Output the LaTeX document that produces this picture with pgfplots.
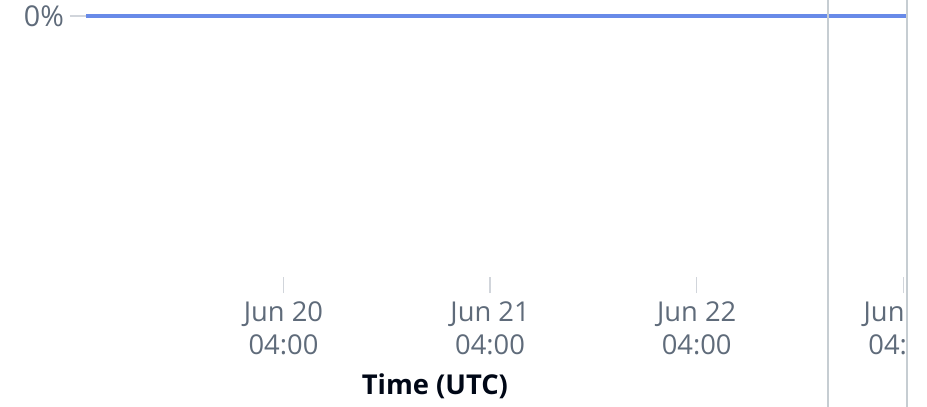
\documentclass[border=0pt]{standalone}
\usepackage{pgfplots}
\pgfplotsset{compat=1.18}
\usepackage{fontspec}
\setmainfont{Open Sans}
\definecolor{lblgray}{HTML}{5F6B7A}
\definecolor{ttl}{HTML}{000716}
\definecolor{blueline}{HTML}{688AE8}
\definecolor{tickgray}{HTML}{D1D5DB}
\definecolor{vgray}{HTML}{C6CDD2}
\begin{document}
\begin{tikzpicture}
\begin{axis}[
  name=ax,
  scale only axis,
  width=615.75pt, height=195.75pt,
  xmin=-0.956, xmax=3.018,
  ymin=-1, ymax=0,
  clip=false,
  axis x line*=bottom, axis y line*=left,
  axis line style={draw=none},
  xtick={0,1,2,3},
  xticklabels={{Jun 20\\04:00},{Jun 21\\04:00},{Jun 22\\04:00},{Jun 23\\04:00}},
  ytick={0},
  yticklabels={0\%},
  tick align=outside,
  major tick length=12pt,
  tick style={draw=tickgray, line width=0.9pt},
  xticklabel style={font=\fontsize{20.5}{24.75}\selectfont, text=lblgray, align=center, yshift=-3pt},
  yticklabel style={font=\fontsize{21.5}{24.75}\selectfont, text=lblgray, xshift=-1pt},
  xlabel={Time (UTC)},
  xlabel style={font=\fontsize{20.5}{24.75}\selectfont\bfseries, text=ttl,
    at={(rel axis cs:0.425,-0.452)}, anchor=base},
]
\addplot[blueline, line width=3pt] coordinates {
  (-0.956,0) (-0.5,0) (0,0) (0.5,0) (1,0) (1.5,0) (2,0) (2.5,0) (3.018,0)
};
\draw[vgray, line width=1.5pt] (axis cs:2.638,0.07) -- (axis cs:2.638,-1.5);
\end{axis}
\fill[white] ([xshift=0.75pt, yshift=15pt]ax.north east) rectangle ([xshift=20pt, yshift=-100pt]ax.south east);
\draw[vgray, line width=1.6pt] ([yshift=12pt]ax.north east) -- ([yshift=-97.5pt]ax.south east);
\pgfresetboundingbox
\path[use as bounding box] ([xshift=-64.5pt, yshift=-97.5pt]ax.south west) rectangle ([xshift=15pt, yshift=12pt]ax.north east);
\end{tikzpicture}
\end{document}
